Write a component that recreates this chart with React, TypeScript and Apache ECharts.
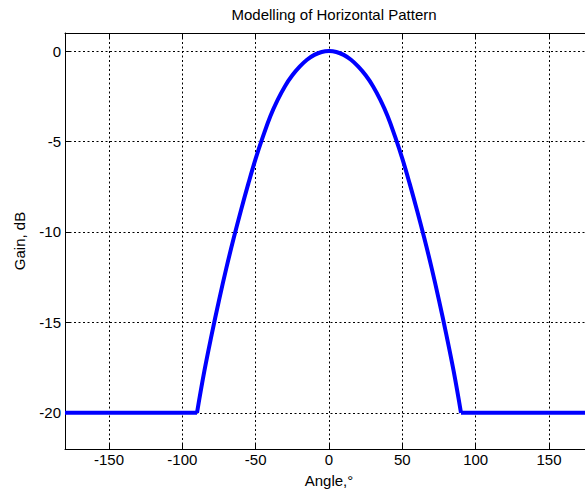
import React, { useEffect, useRef } from "react";
import * as echarts from "echarts";

const titleText = "Modelling of Horizontal Pattern";
const xName = "Angle,°";
const yName = "Gain, dB";

const angles = [
  -180, -90, -85, -80, -75, -70, -65, -60, -55, -50, -45, -40, -35, -30, -25, -20, -15, -10, -5,
  0, 5, 10, 15, 20, 25, 30, 35, 40, 45, 50, 55, 60, 65, 70, 75, 80, 85, 90, 180,
];
const gains = [
  -20, -20, -17.7, -15.68, -13.78, -12.0, -10.35, -8.8, -7.33, -5.95, -4.72, -3.6, -2.7, -1.94, -1.34, -0.86, -0.48, -0.21, -0.05,
  0, -0.05, -0.21, -0.48, -0.86, -1.34, -1.94, -2.7, -3.6, -4.72, -5.95, -7.33, -8.8, -10.35, -12.0, -13.78, -15.68, -17.7, -20, -20,
];
const xTicks = [-150, -100, -50, 0, 50, 100, 150];
const yTicks = [-20, -15, -10, -5, 0];

const FONT = "Liberation Sans, Arial, sans-serif";

export default function App() {
  const ref = useRef<HTMLDivElement>(null);
  useEffect(() => {
    if (!ref.current) return;
    const chart = echarts.init(ref.current, undefined, { renderer: "svg" });
    const gridLine = { show: true, lineStyle: { color: "#000", width: 1, type: [2, 2.5] as any } };
    const axisLine = { show: true, onZero: false, lineStyle: { color: "#000", width: 1 } };
    const labelStyle = { color: "#000", fontSize: 15, fontFamily: FONT };
    const pts = angles.map((a, i) => [a, gains[i]]);
    const inner = pts.filter((p) => p[0] >= -90 && p[0] <= 90);
    const outer: any[] = [];
    pts.forEach((p) => {
      if (p[0] <= -90) outer.push(p);
    });
    outer.push([0, null]);
    pts.forEach((p) => {
      if (p[0] >= 90) outer.push(p);
    });
    const lineStyle = { color: "#0000ff", width: 4 };
    chart.setOption({
      animation: false,
      title: {
        text: titleText,
        left: 329,
        textAlign: "center",
        top: 2,
        textStyle: { color: "#000", fontSize: 15, fontWeight: "normal", fontFamily: FONT },
      },
      grid: { left: 65, top: 33, width: 528, bottom: 44, containLabel: false, outerBoundsMode: "none" },
      xAxis: [
        {
          type: "value",
          min: -180,
          max: 180,
          position: "bottom",
          axisLine,
          axisTick: { show: true, inside: true, length: 5, customValues: xTicks, lineStyle: { color: "#000" } },
          axisLabel: { show: true, customValues: xTicks, margin: 3, ...labelStyle },
          splitLine: gridLine,
          name: xName,
          nameLocation: "middle",
          nameGap: 24,
          nameTextStyle: labelStyle,
        },
        {
          type: "value",
          min: -180,
          max: 180,
          position: "top",
          axisLine,
          axisTick: { show: true, inside: true, length: 5, customValues: xTicks, lineStyle: { color: "#000" } },
          axisLabel: { show: false },
          splitLine: { show: false },
        },
      ],
      yAxis: [
        {
          type: "value",
          min: -22,
          max: 1,
          position: "left",
          axisLine,
          axisTick: { show: true, inside: true, length: 5, customValues: yTicks, lineStyle: { color: "#000" } },
          axisLabel: { show: true, customValues: yTicks, margin: 4, ...labelStyle },
          splitLine: gridLine,
          name: yName,
          nameLocation: "middle",
          nameRotate: 90,
          nameGap: 38,
          nameTextStyle: labelStyle,
        },
        {
          type: "value",
          min: -22,
          max: 1,
          position: "right",
          axisLine,
          axisTick: { show: true, inside: true, length: 5, customValues: yTicks, lineStyle: { color: "#000" } },
          axisLabel: { show: false },
          splitLine: { show: false },
        },
      ],
      series: [
        {
          type: "line",
          xAxisIndex: 0,
          yAxisIndex: 0,
          data: inner,
          symbol: "none",
          smooth: 0.4,
          lineStyle,
          z: 3,
        },
        {
          type: "line",
          xAxisIndex: 0,
          yAxisIndex: 0,
          data: outer,
          symbol: "none",
          connectNulls: false,
          lineStyle,
          z: 3,
        },
      ],
    });
    return () => chart.dispose();
  }, []);
  return (
    <div
      ref={ref}
      style={{ position: "absolute", left: 0, top: 0, width: 585, height: 493, background: "#fff" }}
    />
  );
}
